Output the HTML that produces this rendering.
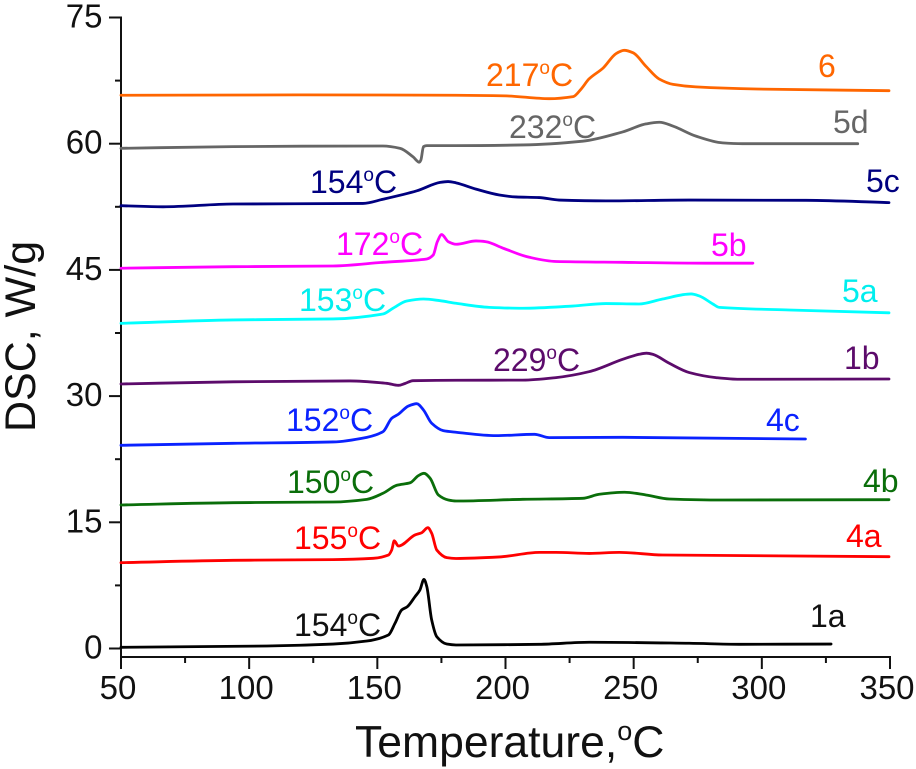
<!DOCTYPE html>
<html lang="en">
<head>
<meta charset="utf-8">
<title>DSC curves</title>
<style>
html,body{margin:0;padding:0;background:#fff;width:916px;height:769px;overflow:hidden}
svg{display:block;font-family:"Liberation Sans",sans-serif}
.curve{fill:none;stroke-width:2.8;stroke-linejoin:round;stroke-linecap:round}
.note{font-size:32px}
.note tspan{font-size:19px}
</style>
</head>
<body>
<svg id="chart" width="916" height="769" viewBox="0 0 916 769" xmlns="http://www.w3.org/2000/svg">
<g id="axes"></g>
<g id="curves"></g>
<text transform="translate(35,432) rotate(-90)" font-size="43" fill="#111">DSC, W/g</text>
<text x="355" y="757" font-size="44.5" fill="#111">Temperature,<tspan font-size="27" dy="-17">o</tspan><tspan dy="17">C</tspan></text>
<g>
<text class="note" x="486" y="86" fill="#ff6600">217<tspan dy="-12">o</tspan><tspan dy="12" style="font-size:32px">C</tspan></text>
<text class="note" x="818" y="77" fill="#ff6600">6</text>
<text class="note" x="509" y="138" fill="#666666">232<tspan dy="-12">o</tspan><tspan dy="12" style="font-size:32px">C</tspan></text>
<text class="note" x="833" y="133" fill="#666666">5d</text>
<text class="note" x="310" y="193" fill="#000080">154<tspan dy="-12">o</tspan><tspan dy="12" style="font-size:32px">C</tspan></text>
<text class="note" x="866" y="192" fill="#000080">5c</text>
<text class="note" x="336" y="255" fill="#ff00ff">172<tspan dy="-12">o</tspan><tspan dy="12" style="font-size:32px">C</tspan></text>
<text class="note" x="711" y="256" fill="#ff00ff">5b</text>
<text class="note" x="299" y="311" fill="#00eeee">153<tspan dy="-12">o</tspan><tspan dy="12" style="font-size:32px">C</tspan></text>
<text class="note" x="842" y="302" fill="#00eeee">5a</text>
<text class="note" x="493" y="371" fill="#5c0b6b">229<tspan dy="-12">o</tspan><tspan dy="12" style="font-size:32px">C</tspan></text>
<text class="note" x="844" y="369" fill="#5c0b6b">1b</text>
<text class="note" x="286" y="431" fill="#0a22ff">152<tspan dy="-12">o</tspan><tspan dy="12" style="font-size:32px">C</tspan></text>
<text class="note" x="766" y="431" fill="#0a22ff">4c</text>
<text class="note" x="287" y="493" fill="#0a6e0a">150<tspan dy="-12">o</tspan><tspan dy="12" style="font-size:32px">C</tspan></text>
<text class="note" x="863" y="492" fill="#0a6e0a">4b</text>
<text class="note" x="294" y="549" fill="#ff0000">155<tspan dy="-12">o</tspan><tspan dy="12" style="font-size:32px">C</tspan></text>
<text class="note" x="846" y="547" fill="#ff0000">4a</text>
<text class="note" x="294" y="636" fill="#111">154<tspan dy="-12">o</tspan><tspan dy="12" style="font-size:32px">C</tspan></text>
<text class="note" x="810" y="627" fill="#111">1a</text>
</g>
</svg>
<script>
const xTickLabels = [50, 100, 150, 200, 250, 300, 350];
const xMinorTicks = [75, 125, 175, 225, 275, 325];
const yTickLabels = [0, 15, 30, 45, 60, 75];
const yMinorTicks = [7.5, 22.5, 37.5, 52.5, 67.5];

const temp6 = [50,119.8,180.7,200.2,217,226.4,229.5,232.6,238.1,243.1,246.3,249.8,254.8,259.9,265.4,274.3,297.8,349.6];
const dsc6 = [65.76,65.8,65.76,65.68,65.35,65.6,66.5,67.7,69,70.7,71.1,70.8,69.2,67.7,67.05,66.75,66.5,66.3];
const temp5d = [50,93.7,152.2,158.9,163.9,166.4,167,168,169.3,180.7,206.7,230.1,245.7,254.8,260,265.3,274.3,284.7,292.5,337.4];
const dsc5d = [59.45,59.65,59.73,59.45,58.45,57.8,58.07,59.65,59.77,59.77,59.85,60.3,61.4,62.35,62.55,62.1,60.9,60.1,60,60];
const temp5c = [50,66.4,93.7,144.4,152.2,165.4,174.5,177.6,180.7,188.5,197.6,204.1,213.1,220.9,239.2,271.6,317.3,349.6];
const dsc5c = [52.63,52.5,52.83,52.9,53.4,54.4,55.4,55.5,55.35,54.6,53.9,53.67,53.6,53.3,53.2,53.3,53.27,53];
const temp5b = [50,93.7,132.7,152.2,169.3,171.8,173.4,175.1,177.7,180.7,188.5,192.4,198.9,209.3,219.7,245.7,278.2,296.5];
const dsc5b = [45.2,45.38,45.46,45.9,46.3,46.77,48.35,49.2,48.35,48.05,48.44,48.35,47.6,46.5,46,45.9,45.8,45.8];
const temp5a = [50,93.7,132.7,152.2,156.1,161.5,168,174.5,180.7,193.6,206.7,226.2,239.2,252.1,261.3,272.4,275.6,280.9,283.4,310.7,349.6];
const dsc5a = [38.65,39.05,39.17,39.76,40.44,41.3,41.54,41.34,41.03,40.55,40.44,40.7,41,40.95,41.54,42.14,41.9,40.95,40.55,40.23,39.9];
const temp1b = [50,93.7,139.3,153.6,158.2,160.8,163.9,180.7,206.7,219.7,232.6,245.7,252.1,255,257.4,263.9,271.7,282.1,291.2,349.6];
const dsc1b = [31.44,31.7,31.8,31.52,31.28,31.5,31.83,31.88,31.9,32.2,32.9,34.37,34.97,35.1,34.97,33.9,32.8,32.2,32,32.03];
const temp4c = [50,93.7,132.7,145.9,152.2,155.6,158.2,162.1,165.4,168,171.2,175.7,180.7,196.3,211.3,217.1,245.7,317];
const dsc4c = [24.15,24.39,24.55,25.1,25.77,27.36,27.84,28.82,29.1,28.35,26.77,25.89,25.7,25.3,25.46,25.06,25.1,24.9];
const temp4b = [50,93.7,132.7,145.9,152.2,157.6,162.8,166,168.2,170.6,173.8,177.7,180.7,206.7,230.1,236.6,246.4,254.8,263.9,284.7,349.6];
const dsc4b = [17.06,17.33,17.41,17.73,18.45,19.4,19.7,20.54,20.82,20.23,18.25,17.65,17.53,17.73,17.85,18.33,18.57,18.25,17.77,17.65,17.69];
const temp4a = [50,93.7,132.7,148.4,154.3,155.6,156.6,158.2,164.7,167.3,169.7,171.2,173.2,177.1,180.7,197.6,213.2,219.7,232.7,244.4,261.3,349.6];
const dsc4a = [10.2,10.48,10.56,10.72,11.1,11.7,12.8,12.18,13.5,13.76,14.36,13.7,11.7,10.8,10.7,10.88,11.43,11.43,11.3,11.43,11.11,10.91];
const temp1a = [50,106.9,132.7,145.9,154.3,156.9,159.5,161.7,164.7,166.6,168.2,169.3,171.2,173.2,177.1,180.7,213.1,232.7,271.7,291.2,327];
const dsc1a = [0.14,0.3,0.53,0.89,1.6,3,4.58,4.97,6.16,6.95,8.22,7.35,3.39,1.4,0.53,0.42,0.5,0.74,0.62,0.5,0.53];

const NS = 'http://www.w3.org/2000/svg';
function xScale(t){ return 121 + (t - 50) * (890 - 121) / 300; }
function yScale(v){ return 648.5 - v * (648.5 - 17.5) / 75; }

function smoothPath(xs, ys){
  const n = xs.length, d = [], m = new Array(n);
  for (let i = 0; i < n - 1; i++) d.push((ys[i+1] - ys[i]) / (xs[i+1] - xs[i]));
  m[0] = d[0]; m[n-1] = d[n-2];
  for (let i = 1; i < n - 1; i++) m[i] = d[i-1] * d[i] <= 0 ? 0 : 2 * d[i-1] * d[i] / (d[i-1] + d[i]);
  let p = 'M' + xs[0].toFixed(2) + ' ' + ys[0].toFixed(2);
  for (let i = 0; i < n - 1; i++){
    const h = (xs[i+1] - xs[i]) / 3;
    p += 'C' + (xs[i] + h).toFixed(2) + ' ' + (ys[i] + m[i] * h).toFixed(2) + ' ' +
         (xs[i+1] - h).toFixed(2) + ' ' + (ys[i+1] - m[i+1] * h).toFixed(2) + ' ' +
         xs[i+1].toFixed(2) + ' ' + ys[i+1].toFixed(2);
  }
  return p;
}

const axes = document.getElementById('axes');
function axisLine(x1, y1, x2, y2, w){
  const l = document.createElementNS(NS, 'line');
  l.setAttribute('x1', x1); l.setAttribute('y1', y1);
  l.setAttribute('x2', x2); l.setAttribute('y2', y2);
  l.setAttribute('stroke', '#111'); l.setAttribute('stroke-width', w);
  axes.appendChild(l);
  return l;
}
function tickText(str, x, y, anchor){
  const t = document.createElementNS(NS, 'text');
  t.setAttribute('x', x); t.setAttribute('y', y);
  t.setAttribute('text-anchor', anchor);
  t.setAttribute('font-size', '33'); t.setAttribute('fill', '#111');
  t.textContent = str;
  axes.appendChild(t);
  return t;
}
const yAxisLine = axisLine(121, yScale(75) - 1, 121, 658, 2);


const xAxisLine = axisLine(120, 657, 891, 657, 2);



xTickLabels.forEach(function(v){
  const tick = axisLine(xScale(v), 657, xScale(v), 669, 2);
  
  
  const label = tickText(String(v), xScale(v) - 3, 699, 'middle');
  
  
});
xMinorTicks.forEach(function(v){
  const tick = axisLine(xScale(v), 657, xScale(v), 663, 2);
  
  
});
yTickLabels.forEach(function(v){
  const tick = axisLine(109, yScale(v), 121, yScale(v), 2);
  
  
  const label = tickText(String(v), 102.5, yScale(v) + 10, 'end');
  
  
});
yMinorTicks.forEach(function(v){
  const tick = axisLine(115, yScale(v), 121, yScale(v), 2);
  
  
});

const curves = document.getElementById('curves');
function drawCurve(temps, values, color){
  const p = document.createElementNS(NS, 'path');
  p.setAttribute('class', 'curve');
  p.setAttribute('stroke', color);
  p.setAttribute('d', smoothPath(temps.map(xScale), values.map(yScale)));
  curves.appendChild(p);
  return p;
}
const curve6 = drawCurve(temp6, dsc6, '#ff6600');


const curve5d = drawCurve(temp5d, dsc5d, '#666666');


const curve5c = drawCurve(temp5c, dsc5c, '#000080');


const curve5b = drawCurve(temp5b, dsc5b, '#ff00ff');


const curve5a = drawCurve(temp5a, dsc5a, '#00ffff');


const curve1b = drawCurve(temp1b, dsc1b, '#5c0b6b');


const curve4c = drawCurve(temp4c, dsc4c, '#0a22ff');


const curve4b = drawCurve(temp4b, dsc4b, '#0a6e0a');


const curve4a = drawCurve(temp4a, dsc4a, '#ff0000');


const curve1a = drawCurve(temp1a, dsc1a, '#000000');


</script>
</body>
</html>
